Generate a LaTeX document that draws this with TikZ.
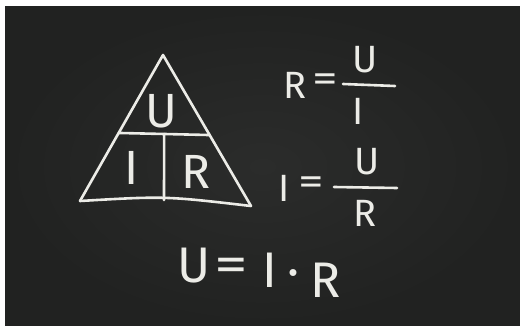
\documentclass[tikz,border=0pt]{standalone}
\usepackage{fontspec}
\setmainfont{Fira Sans}
\usetikzlibrary{calc}
\definecolor{cBoard}{HTML}{2B2C2B}
\definecolor{cBoardEdge}{HTML}{212221}
\definecolor{cChalk}{HTML}{ECECE7}
\tikzset{
  chalk/line/.style={draw=cChalk, line width=2.6pt, line cap=round, line join=round},
  chalk/tri/.style ={text=cChalk, inner sep=0pt, font=\fontsize{48}{48}\selectfont},
  chalk/frac/.style={text=cChalk, inner sep=0pt, font=\fontsize{38}{38}\selectfont},
  chalk/big/.style ={text=cChalk, inner sep=0pt, font=\fontsize{50}{50}\selectfont},
  chalk/eq/.style  ={xscale=1.35}
}

\begin{document}
\begin{tikzpicture}[x=1pt, y=-1pt]
    % page and board
    \fill[white] (0,0) rectangle (520,326);
    \shade[inner color=cBoard, outer color=cBoardEdge] (5,7) rectangle (520,326);
    \useasboundingbox (0,0) rectangle (520,326);

    % the triangle
    \coordinate (apex) at (163,55);
    \coordinate (bl)   at (80,201);
    \coordinate (br)   at (251,206);
    \coordinate (hl)   at ($(apex)!0.534!(bl)$);
    \coordinate (hr)   at ($(apex)!0.53!(br)$);
    \coordinate (vt)   at ($(hl)!0.5!(hr)$);
    \coordinate (vb)   at (164,200);
    \draw[chalk/line] (bl) -- (apex) -- (br);
    \draw[chalk/line] (bl) .. controls (165,196) .. (br);
    \draw[chalk/line] (hl) -- (hr);
    \draw[chalk/line] (vt) -- (vb);
    \node[chalk/tri] (triU) at (161,111) {U};
    \node[chalk/tri] (triI) at (132,168) {I};
    \node[chalk/tri] (triR) at (196,172) {R};

    % R = U / I
    \node[chalk/frac] (aR)  at (295,85) {R};
    \node[chalk/frac, chalk/eq] (aEq) at (325,83) {=};
    \node[chalk/frac] (aU)  at (365,60) {U};
    \node[chalk/frac] (aI)  at (358,111) {I};
    \coordinate (aBarL) at (343,84);
    \coordinate (aBarR) at (395,86);
    \draw[chalk/line] (aBarL) -- (aBarR);

    % I = U / R
    \node[chalk/frac] (bI)  at (284,188) {I};
    \node[chalk/frac, chalk/eq] (bEq) at (311,186) {=};
    \node[chalk/frac] (bU)  at (367,162) {U};
    \node[chalk/frac] (bR)  at (365,213) {R};
    \coordinate (bBarL) at (334,187);
    \coordinate (bBarR) at (397,188);
    \draw[chalk/line] (bBarL) -- (bBarR);

    % U = I * R
    \node[chalk/big] (cU)   at (194,266) {U};
    \node[chalk/big, chalk/eq] (cEq)  at (231,270) {=};
    \node[chalk/big] (cI)   at (270,270) {I};
    \node[chalk/big] (cDot) at (293,279) {·};
    \node[chalk/big] (cR)   at (326,280) {R};
\end{tikzpicture}
\end{document}
